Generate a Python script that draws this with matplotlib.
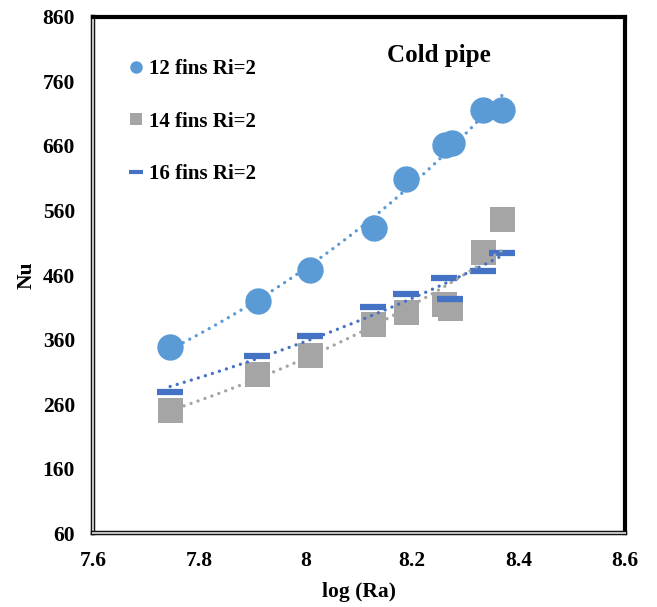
import numpy as np
import matplotlib.pyplot as plt
import matplotlib.patheffects as pe
from matplotlib.lines import Line2D

# data: log(Ra) vs Nu
x12 = [7.745, 7.910, 8.008, 8.128, 8.188, 8.262, 8.275, 8.333, 8.370]
nu12 = [348, 420, 468, 533, 609, 662, 665, 716, 716]

x14 = [7.745, 7.909, 8.008, 8.127, 8.188, 8.260, 8.272, 8.333, 8.370]
nu14 = [251, 306, 336, 384, 403, 415, 409, 495, 547]

x16 = [7.745, 7.909, 8.008, 8.127, 8.188, 8.260, 8.272, 8.333, 8.370]
nu16 = [279, 334, 365, 411, 430, 456, 423, 466, 494]

labels = ["12 fins Ri=2", "14 fins Ri=2", "16 fins Ri=2"]
xticks = [7.6, 7.8, 8.0, 8.2, 8.4, 8.6]
xticklabels = ["7.6", "7.8", "8", "8.2", "8.4", "8.6"]
yticks = [60, 160, 260, 360, 460, 560, 660, 760, 860]

c12 = "#5B9BD5"
c14 = "#A5A5A5"
c16 = "#4472C4"

plt.rcParams["font.family"] = ["Liberation Serif", "DejaVu Serif"]
plt.rcParams["font.weight"] = "bold"

fig = plt.figure(figsize=(6.57, 6.07), dpi=100)
ax = fig.add_axes([0.1416, 0.1219, 0.8094, 0.8501])

ax.plot(x12, nu12, "o", color=c12, markersize=19, markeredgewidth=0, zorder=3)
ax.plot(x14, nu14, "s", color=c14, markersize=18, markeredgewidth=0, zorder=3)
ax.plot(x16, nu16, "_", color=c16, markersize=19, markeredgewidth=4.5, zorder=4)

# exponential trendlines (Excel style, dotted)
for xs, ys, c in [(x12, nu12, c12), (x14, nu14, c14), (x16, nu16, c16)]:
    k, b = np.polyfit(xs, np.log(ys), 1)
    xx = np.linspace(min(xs), max(xs), 100)
    ax.plot(xx, np.exp(k * xx + b), color=c, linewidth=2.4, linestyle=(0, (0.01, 2.2)),
            dash_capstyle="round", zorder=5)

ax.set_xlim(7.6, 8.6)
ax.set_ylim(60, 860)
ax.set_xticks(xticks)
ax.set_xticklabels(xticklabels)
ax.set_yticks(yticks)
ax.tick_params(length=0, labelsize=15.5, pad=13)
for t in ax.get_xticklabels() + ax.get_yticklabels():
    t.set_fontweight("bold")

ax.set_xlabel("log (Ra)", fontsize=15.5, fontweight="bold", labelpad=8)
ax.set_ylabel("Nu", fontsize=15.5, fontweight="bold", labelpad=4)

# frame: black top/right, grey left/bottom with black outline
for s in ["top", "right"]:
    ax.spines[s].set_linewidth(3)
    ax.spines[s].set_color("black")
for s in ["left", "bottom"]:
    ax.spines[s].set_linewidth(1.6)
    ax.spines[s].set_color("#BFBFBF")
    ax.spines[s].set_path_effects([pe.Stroke(linewidth=3.2, foreground="black"), pe.Normal()])

ax.text(0.651, 0.925, "Cold pipe", transform=ax.transAxes, fontsize=18,
        fontweight="bold", ha="center", va="center")

handles = [
    Line2D([], [], marker="o", linestyle="none", color=c12, markersize=9, markeredgewidth=0),
    Line2D([], [], marker="s", linestyle="none", color=c14, markersize=8.5, markeredgewidth=0),
    Line2D([], [], marker="_", linestyle="none", color=c16, markersize=9.5, markeredgewidth=3),
]
leg = ax.legend(handles, labels, loc="upper left", bbox_to_anchor=(0.034, 0.955),
                frameon=False, handlelength=0.6, handletextpad=0.3,
                labelspacing=1.57, prop={"size": 15, "weight": "bold"})

fig.savefig("out.png", dpi=100)
